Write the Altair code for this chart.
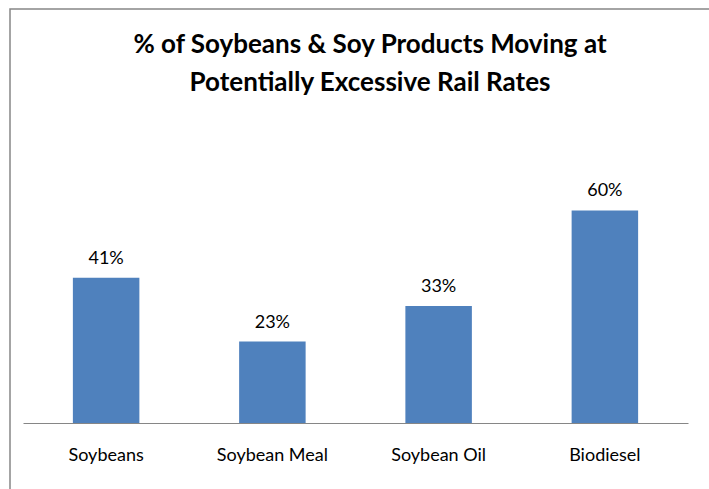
import altair as alt
import pandas as pd

categories = ["Soybeans", "Soybean Meal", "Soybean Oil", "Biodiesel"]
values = [0.41, 0.23, 0.33, 0.60]
labels = ["41%", "23%", "33%", "60%"]
title_lines = ["% of Soybeans & Soy Products Moving at", "Potentially Excessive Rail Rates"]

df = pd.DataFrame({"cat": categories, "val": values, "lab": labels})

FONT = "Lato"

base = alt.Chart(df).encode(
    x=alt.X("cat:N", sort=categories, title=None,
            scale=alt.Scale(paddingInner=0.6, paddingOuter=0.3),
            axis=alt.Axis(labelAngle=0, ticks=False, domainColor="#868686",
                          labelFont=FONT, labelFontSize=18, labelColor="#000000",
                          labelPadding=23)),
    y=alt.Y("val:Q", scale=alt.Scale(domain=[0, 0.7]), axis=None),
)

bars = base.mark_bar(color="#4F81BD")
text = base.mark_text(baseline="alphabetic", dy=-14, font=FONT, fontSize=18, color="#000000").encode(text="lab:N")

frame = alt.Chart(alt.Data(values=[{"a": 1}])).mark_rect(
    fill=None, stroke="#878787", strokeWidth=1.5, clip=False
).encode(x=alt.value(-13), x2=alt.value(900), y=alt.value(-166), y2=alt.value(500))

t1 = alt.Chart(alt.Data(values=[{"t": title_lines[0]}])).mark_text(
    font=FONT, fontSize=26, fontWeight="bold", color="#000000", baseline="middle", align="center"
).encode(text="t:N", x=alt.value(347), y=alt.value(-130))
t2 = alt.Chart(alt.Data(values=[{"t": title_lines[1]}])).mark_text(
    font=FONT, fontSize=26, fontWeight="bold", color="#000000", baseline="middle", align="center"
).encode(text="t:N", x=alt.value(347), y=alt.value(-92))

chart = alt.layer(bars, text, frame, t1, t2).properties(
    width=665,
    height=248,
    background="#ffffff",
    autosize=alt.AutoSizeParams(type="none"),
    padding={"left": 23, "top": 175, "right": 21, "bottom": 66},
).configure_view(stroke=None)

chart.save("out.html", embed_options={"renderer": "svg", "actions": False})
